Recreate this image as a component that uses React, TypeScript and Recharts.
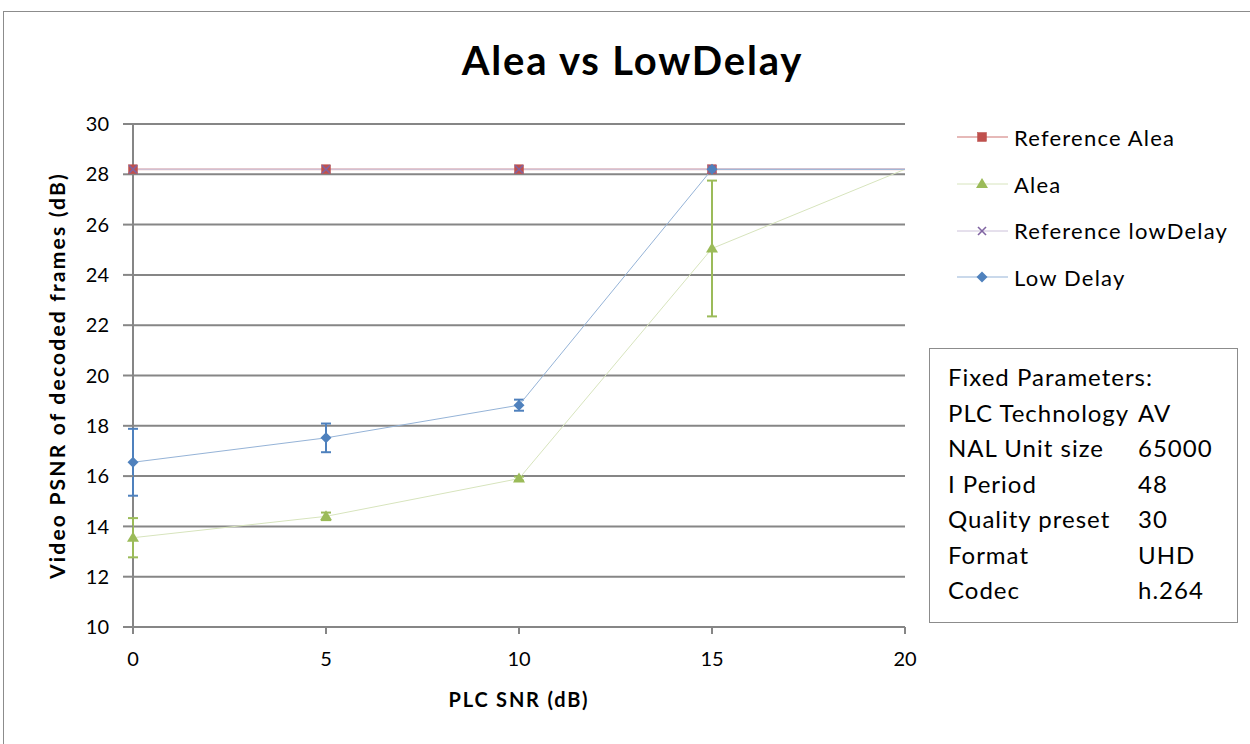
import React from 'react';
import { LineChart, Line, XAxis, YAxis, CartesianGrid, ErrorBar, ReferenceLine } from 'recharts';

const snr = [0, 5, 10, 15, 20];
const referenceAlea = [28.2, 28.2, 28.2, 28.2, 28.2];
const alea = [13.55, 14.4, 15.9, 25.05, 28.2];
const aleaErr = [0.78, 0.15, 0.08, 2.7, 0];
const referenceLowDelay = [28.2, 28.2, 28.2, 28.2, 28.2];
const lowDelay = [16.55, 17.52, 18.82, 28.2, 28.2];
const lowDelayErr = [1.33, 0.57, 0.22, 0, null];

const xTicks = [0, 5, 10, 15, 20];
const yTicks = [10, 12, 14, 16, 18, 20, 22, 24, 26, 28, 30];

const fixedParams = [
  ['PLC Technology', 'AV'],
  ['NAL Unit size', '65000'],
  ['I Period', '48'],
  ['Quality preset', '30'],
  ['Format', 'UHD'],
  ['Codec', 'h.264'],
];

const data = snr.map((s, i) => ({
  snr: s,
  refAlea: referenceAlea[i],
  alea: alea[i],
  aleaErr: aleaErr[i],
  refLow: referenceLowDelay[i],
  low: lowDelay[i],
  lowErr: lowDelayErr[i],
}));

const FONT = 'Lato, "Open Sans", sans-serif';
const GRID = '#868686';

type Shape = 'square' | 'triangle' | 'cross' | 'diamond';

const series: { key: string; name: string; line: string; marker: string; shape: Shape; width: number }[] = [
  { key: 'refAlea', name: 'Reference Alea', line: '#e6b9b8', marker: '#c0504d', shape: 'square', width: 2 },
  { key: 'alea', name: 'Alea', line: '#d7e4bd', marker: '#9bbb59', shape: 'triangle', width: 1 },
  { key: 'refLow', name: 'Reference lowDelay', line: '#ccc1da', marker: '#8064a2', shape: 'cross', width: 1 },
  { key: 'low', name: 'Low Delay', line: '#95b3d7', marker: '#4f81bd', shape: 'diamond', width: 1 },
];

const Marker = ({ cx, cy, shape, color }: { cx: number; cy: number; shape: Shape; color: string }) => {
  if (shape === 'square') {
    return <rect x={cx - 4.5} y={cy - 4.5} width={9} height={9} fill={color} stroke="#b9504d" strokeWidth={0.5} />;
  }
  if (shape === 'triangle') {
    return <polygon points={`${cx},${cy - 6} ${cx + 6},${cy + 4} ${cx - 6},${cy + 4}`} fill={color} />;
  }
  if (shape === 'cross') {
    return (
      <g stroke={color} strokeWidth={1.6}>
        <line x1={cx - 4} y1={cy - 4} x2={cx + 4} y2={cy + 4} />
        <line x1={cx - 4} y1={cy + 4} x2={cx + 4} y2={cy - 4} />
      </g>
    );
  }
  return <polygon points={`${cx},${cy - 5.5} ${cx + 5.5},${cy} ${cx},${cy + 5.5} ${cx - 5.5},${cy}`} fill={color} />;
};

const makeDot = (shape: Shape, color: string) => (props: any) => {
  const { cx, cy, index, payload } = props;
  if (cx == null || cy == null || payload.snr === 20) return <g key={`${shape}-${index}`} />;
  return <Marker key={`${shape}-${index}`} cx={cx} cy={cy} shape={shape} color={color} />;
};

const LegendBox = () => (
  <div style={{ position: 'absolute', left: 957, top: 114, fontFamily: FONT, fontSize: 22, color: '#000' }}>
    {series.map((s) => (
      <div key={s.key} style={{ display: 'flex', alignItems: 'center', height: 46.7 }}>
        <svg width={57} height={20}>
          <line x1={0} y1={10} x2={51} y2={10} stroke={s.line} strokeWidth={s.width} />
          <Marker cx={25} cy={10} shape={s.shape} color={s.marker} />
        </svg>
        <span style={{ letterSpacing: 1.2, whiteSpace: 'nowrap' }}>{s.name}</span>
      </div>
    ))}
  </div>
);

export default function App() {
  return (
    <div style={{ position: 'absolute', left: 0, top: 0, width: 1250, height: 744, overflow: 'hidden', background: '#fff' }}>
      <div style={{ position: 'absolute', left: 3, top: 11, width: 1300, height: 800, border: '1px solid #8c8c8c' }} />
      <div
        style={{
          position: 'absolute',
          left: 0,
          top: 36,
          width: 1265,
          textAlign: 'center',
          fontFamily: FONT,
          fontWeight: 700,
          fontSize: 40,
          letterSpacing: 1.8,
        }}
      >
        Alea vs LowDelay
      </div>
      <div style={{ position: 'absolute', left: 0, top: 0 }}>
        <LineChart width={1250} height={744} data={data} margin={{ top: 124, right: 345, bottom: 87, left: 40 }}>
          <CartesianGrid horizontal vertical={false} stroke={GRID} strokeWidth={2} />
          <XAxis
            dataKey="snr"
            type="number"
            domain={[0, 20]}
            ticks={xTicks}
            height={30}
            tickSize={7}
            tickMargin={18}
            axisLine={{ stroke: GRID, strokeWidth: 2 }}
            tickLine={{ stroke: GRID, strokeWidth: 2 }}
            tick={{ fill: '#000', fontSize: 20, fontFamily: FONT }}
            label={{
              value: 'PLC SNR (dB)',
              position: 'bottom',
              offset: 36,
              style: { fontFamily: FONT, fontSize: 20, fontWeight: 700, fill: '#000', letterSpacing: 1.8 },
            }}
          />
          <YAxis
            type="number"
            domain={[10, 30]}
            ticks={yTicks}
            width={93}
            tickSize={10}
            tickMargin={14}
            interval={0}
            axisLine={false}
            tickLine={{ stroke: GRID, strokeWidth: 2 }}
            tick={{ fill: '#000', fontSize: 20, fontFamily: FONT }}
            label={{
              value: 'Video PSNR of decoded frames (dB)',
              angle: -90,
              position: 'insideLeft',
              offset: 18,
              style: {
                textAnchor: 'middle',
                fontFamily: FONT,
                fontSize: 21,
                fontWeight: 700,
                fill: '#000',
                letterSpacing: 2.2,
              },
            }}
          />
          <ReferenceLine x={0} stroke={GRID} strokeWidth={2} />
          {series.map((s) => (
            <Line
              key={s.key}
              dataKey={s.key}
              name={s.name}
              type="linear"
              stroke={s.line}
              strokeWidth={s.width}
              dot={makeDot(s.shape, s.marker)}
              activeDot={false}
              isAnimationActive={false}
            >
              {s.key === 'alea' && <ErrorBar dataKey="aleaErr" direction="y" width={5} strokeWidth={2} stroke="#9bbb59" />}
              {s.key === 'low' && <ErrorBar dataKey="lowErr" direction="y" width={5} strokeWidth={2} stroke="#4f81bd" />}
            </Line>
          ))}
        </LineChart>
      </div>
      <LegendBox />
      <div
        style={{
          position: 'absolute',
          left: 929,
          top: 348,
          width: 309,
          height: 275,
          border: '1px solid #8c8c8c',
          background: '#fff',
          fontFamily: FONT,
          fontSize: 24,
          color: '#000',
          boxSizing: 'border-box',
          padding: '13px 0 0 18px',
        }}
      >
        <div style={{ height: 35.5, letterSpacing: 1 }}>Fixed Parameters:</div>
        {fixedParams.map(([k, v]) => (
          <div key={k} style={{ display: 'flex', height: 35.5, letterSpacing: 1 }}>
            <span style={{ width: 190, whiteSpace: 'nowrap' }}>{k}</span>
            <span>{v}</span>
          </div>
        ))}
      </div>
    </div>
  );
}
